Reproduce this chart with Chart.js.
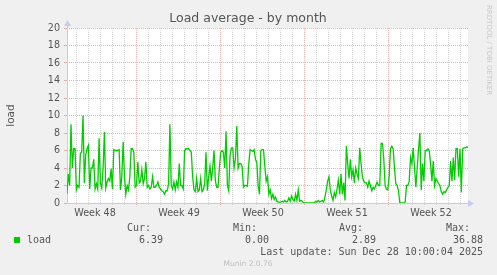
<!DOCTYPE html>
<html>
<head>
<meta charset="utf-8">
<script src="https://cdn.jsdelivr.net/npm/chart.js@4"></script>
<style>
  html, body { margin: 0; padding: 0; background: #f0f0f0; }
  canvas { display: block; }
</style>
</head>
<body>
<canvas id="chart" width="497" height="275"></canvas>
<script>
// data, one sample roughly every 2.7 hours
const load = [
  1.1, 3.3, 2.0, 9.0, 4.0, 6.2, 6.2, 1.5, 2.0, 1.8,
  5.7, 5.8, 10.0, 2.3, 5.5, 6.2, 6.6, 1.6, 4.0, 4.0,
  5.0, 1.6, 2.2, 1.6, 7.4, 2.3, 1.7, 4.0, 8.1, 1.7,
  2.4, 2.8, 2.5, 3.9, 1.6, 6.1, 6.0, 6.0, 6.0, 6.1,
  1.5, 3.0, 7.0, 3.0, 1.0, 2.0, 1.5, 3.0, 6.2, 6.2,
  5.8, 1.8, 2.0, 4.7, 2.3, 2.5, 3.8, 2.2, 2.8, 4.7,
  1.8, 2.0, 1.6, 1.8, 3.0, 1.8, 1.8, 2.0, 2.4, 1.8,
  1.6, 1.4, 1.3, 1.0, 1.4, 1.4, 2.2, 9.0, 2.0, 1.6,
  2.4, 1.5, 2.4, 1.8, 4.5, 2.0, 2.0, 1.6, 6.0, 6.2,
  6.2, 6.2, 6.0, 5.8, 3.0, 1.5, 1.3, 2.8, 1.3, 1.5,
  2.8, 1.3, 1.5, 2.2, 5.8, 1.4, 3.0, 4.2, 2.5, 4.0,
  6.0, 2.5, 1.8, 1.8, 4.0, 5.8, 6.0, 5.8, 4.0, 8.2,
  2.0, 1.4, 5.5, 6.3, 6.3, 4.0, 5.0, 8.8, 4.0, 4.5,
  4.5, 4.2, 1.8, 2.0, 2.0, 1.9, 4.5, 6.1,
  6.0, 5.9, 6.1, 5.0, 4.6, 2.0, 1.0, 6.0, 6.1, 6.1,
  4.2, 2.5, 3.0, 1.0, 1.5, 0.5, 1.0, 0.4, 0.7, 0.2,
  0.1, 0.1, 0.1, 0.2, 0.1, 0.3, 0.1, 0.2, 0.6, 0.2,
  0.8, 0.4, 0.2, 1.0, 0.3, 1.5, 0.2, 0.3, 0.2, 0,
  0, 0, 0, 0, 0, 0, 0, 0, 0.2, 0.1,
  0.3, 0.1, 0.2, 0.3, 0.1, 0.7, 1.5, 2.5, 3.0, 1.5,
  0.8, 0.3, 1.2, 0.7, 1.6, 2.6, 1.0, 3.3, 1.0, 2.3,
  0.3, 6.5, 4.5, 2.8, 5.0, 3.0, 3.8, 2.3, 4.0, 3.3,
  2.8, 6.3, 4.5, 3.0, 2.5, 2.3, 2.3, 1.8, 2.5, 2.0,
  1.4, 1.8, 1.6, 2.0, 2.4, 2.0, 2.0, 6.8, 6.8, 5.0,
  2.0, 1.6, 1.5, 3.0, 6.2, 6.5, 6.2, 4.0, 2.2, 2.0,
  1.4, 0, 0, 0, 0, 0.1, 2.0, 2.0, 2.5, 5.2,
  4.5, 6.3, 4.0, 1.8, 4.0, 6.2, 8.0, 1.5, 4.5, 2.5,
  6.0, 6.0, 6.2, 6.0, 4.5, 2.5, 4.8, 2.0, 2.8, 2.5,
  2.2, 2.0, 1.3, 1.0, 1.3, 1.2, 1.5, 1.8, 2.0, 4.8,
  2.5, 5.2, 2.6, 6.2, 6.2, 3.0, 6.2, 1.2, 6.2, 6.3,
  6.3, 6.4, 6.4
];

const weekLabels = ["Week 48", "Week 49", "Week 50", "Week 51", "Week 52"];
const statLabels = ["Cur:", "Min:", "Avg:", "Max:"];
const statValues = ["6.39", "0.00", "2.89", "36.88"];
const seriesName = "load";
const lastUpdate = "Last update: Sun Dec 28 10:00:04 2025";

// x axis in days: graph covers ~33.4 days, first day line at 0.833, week starts at 5.833
const spanDays = 33.4167;
const firstDay = 0.8333;
const firstWeek = 5.8333;
const yMax = 20;

const points = load.map((v, i) => ({ x: i * spanDays / (load.length - 1), y: v }));

const RED = "rgba(228,150,150,0.75)";
const GRAY = "rgba(200,200,200,0.75)";
const AXIS = "#c5cbf2";
const TEXT = "#555";

function isWhole(v) { return Math.abs(v - Math.round(v)) < 0.01; }

const muninDecor = {
  id: "muninDecor",
  beforeDraw(chart) {
    const { ctx, chartArea: a } = chart;
    ctx.save();
    ctx.fillStyle = "#f0f0f0";
    ctx.fillRect(0, 0, chart.width, chart.height);
    ctx.fillStyle = "#fff";
    ctx.fillRect(a.left, a.top, a.right - a.left, a.bottom - a.top);
    ctx.restore();
  },
  beforeDatasetsDraw(chart) {
    const { ctx, chartArea: a } = chart;
    ctx.save();
    ctx.strokeStyle = AXIS;
    ctx.fillStyle = AXIS;
    ctx.lineWidth = 1;
    ctx.beginPath();
    ctx.moveTo(a.left + 0.5, a.bottom);
    ctx.lineTo(a.left + 0.5, a.top - 4);
    ctx.moveTo(a.left, a.bottom + 0.5);
    ctx.lineTo(a.right + 4, a.bottom + 0.5);
    ctx.stroke();
    // arrows
    ctx.beginPath();
    ctx.moveTo(a.left - 3, a.top - 2);
    ctx.lineTo(a.left + 4, a.top - 2);
    ctx.lineTo(a.left + 0.5, a.top - 8);
    ctx.closePath();
    ctx.fill();
    ctx.beginPath();
    ctx.moveTo(a.right, a.bottom - 3);
    ctx.lineTo(a.right, a.bottom + 4);
    ctx.lineTo(a.right + 6, a.bottom + 0.5);
    ctx.closePath();
    ctx.fill();
    ctx.restore();
  },
  afterDraw(chart) {
    const { ctx, chartArea: a } = chart;
    ctx.save();
    ctx.fillStyle = TEXT;
    ctx.font = "12.5px 'DejaVu Sans'";
    ctx.textAlign = "center";
    ctx.textBaseline = "middle";
    ctx.fillText("Load average - by month", 248, 19);

    ctx.save();
    ctx.translate(11, (a.top + a.bottom) / 2);
    ctx.rotate(-Math.PI / 2);
    ctx.font = "10.5px 'DejaVu Sans'";
    ctx.fillText(seriesName, 0, 0);
    ctx.restore();

    ctx.save();
    ctx.translate(489, 5);
    ctx.rotate(Math.PI / 2);
    ctx.fillStyle = "#c8c8c8";
    ctx.font = "7px 'DejaVu Sans'";
    ctx.textAlign = "left";
    ctx.fillText("RRDTOOL / TOBI OETIKER", 0, 0);
    ctx.restore();

    // legend
    ctx.fillStyle = "#00cc00";
    ctx.fillRect(14, 237, 6, 6);
    ctx.fillStyle = TEXT;
    ctx.font = "10px 'DejaVu Sans Mono'";
    ctx.textAlign = "left";
    ctx.fillText(seriesName, 27, 240);
    ctx.textAlign = "right";
    const headX = [151, 257, 363, 470];
    const valX = [163, 269, 376, 483];
    statLabels.forEach((s, i) => ctx.fillText(s, headX[i], 228));
    statValues.forEach((s, i) => ctx.fillText(s, valX[i], 240));
    ctx.fillText(lastUpdate, 483, 252);

    ctx.textAlign = "center";
    ctx.fillStyle = "#bdbdbd";
    ctx.font = "7.5px 'DejaVu Sans'";
    ctx.fillText("Munin 2.0.76", 248, 264);
    ctx.restore();
  }
};

new Chart(document.getElementById("chart"), {
  type: "line",
  data: {
    datasets: [{
      label: seriesName,
      data: points,
      borderColor: "#00cc00",
      borderWidth: 1.3,
      pointRadius: 0,
      tension: 0,
      fill: false,
    }],
  },
  options: {
    responsive: false,
    animation: false,
    devicePixelRatio: 1,
    layout: { padding: { left: 0, top: 28, right: 29, bottom: 0 } },
    plugins: { legend: { display: false }, tooltip: { enabled: false } },
    scales: {
      x: {
        type: "linear",
        min: 0,
        max: spanDays,
        afterBuildTicks: (scale) => {
          const t = [];
          for (let v = firstDay; v <= spanDays; v += 0.5) t.push({ value: v });
          scale.ticks = t;
        },
        afterFit: (scale) => { scale.height = 72; },
        grid: {
          color: (c) => {
            const v = c.tick ? c.tick.value : 0;
            if (!isWhole(v - firstDay)) return "rgba(0,0,0,0)";
            const w = (v - firstWeek) / 7;
            return isWhole(w) ? RED : GRAY;
          },
          tickLength: 2,
          lineWidth: 1,
        },
        border: { display: false, dash: [1, 1] },
        ticks: {
          autoSkip: false,
          maxRotation: 0,
          padding: 3,
          color: TEXT,
          font: { family: "'DejaVu Sans'", size: 9.6 },
          callback: (v) => {
            const m = (v - (firstWeek - 3.5)) / 7;
            if (isWhole(m) && m >= -0.01 && Math.round(m) < weekLabels.length) return weekLabels[Math.round(m)];
            return "";
          },
        },
      },
      y: {
        min: 0,
        max: yMax,
        afterBuildTicks: (scale) => {
          const t = [];
          for (let v = 0; v <= yMax; v++) t.push({ value: v });
          scale.ticks = t;
        },
        afterFit: (scale) => { scale.width = 67; },
        grid: {
          color: (c) => {
            const v = c.tick ? c.tick.value : 0;
            if (v === 0) return "rgba(0,0,0,0)";
            return v % 2 === 0 ? RED : GRAY;
          },
          tickColor: (c) => {
            const v = c.tick ? c.tick.value : 0;
            return v % 2 === 0 ? RED : GRAY;
          },
          tickLength: 3,
        },
        border: { display: false, dash: [1, 1] },
        ticks: {
          padding: 4,
          color: TEXT,
          font: { family: "'DejaVu Sans'", size: 9.6 },
          callback: (v) => (v % 2 === 0 ? String(v) : ""),
        },
      },
    },
  },
  plugins: [muninDecor],
});
</script>
</body>
</html>
